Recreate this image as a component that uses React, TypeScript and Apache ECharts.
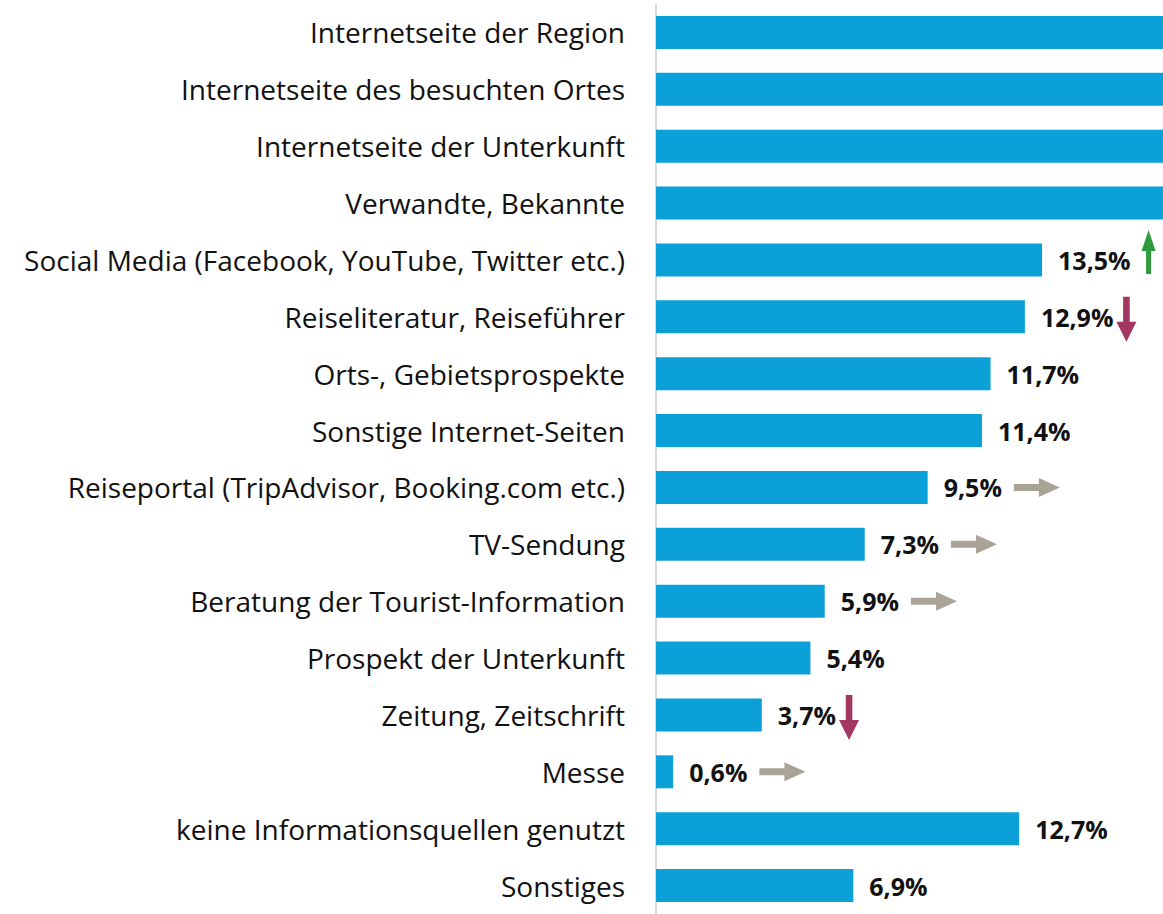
import React, { useEffect, useRef } from "react";
import * as echarts from "echarts";

const categories = [
  "Internetseite der Region",
  "Internetseite des besuchten Ortes",
  "Internetseite der Unterkunft",
  "Verwandte, Bekannte",
  "Social Media (Facebook, YouTube, Twitter etc.)",
  "Reiseliteratur, Reiseführer",
  "Orts-, Gebietsprospekte",
  "Sonstige Internet-Seiten",
  "Reiseportal (TripAdvisor, Booking.com etc.)",
  "TV-Sendung",
  "Beratung der Tourist-Information",
  "Prospekt der Unterkunft",
  "Zeitung, Zeitschrift",
  "Messe",
  "keine Informationsquellen genutzt",
  "Sonstiges",
];

// top four bars run beyond the visible area in the reference (values not visible)
const values = [38.0, 33.0, 27.0, 21.0, 13.5, 12.9, 11.7, 11.4, 9.5, 7.3, 5.9, 5.4, 3.7, 0.6, 12.7, 6.9];
const showValue = [false, false, false, false, true, true, true, true, true, true, true, true, true, true, true, true];
const trends = ["", "", "", "", "up", "down", "", "", "right", "right", "right", "", "down", "right", "", ""];

const X_MAX = 17.73;
const BAR_COLOR = "#0ca0d8";
const LABEL_FONT = "'Open Sans'";
const VALUE_FONT_SIZE = 25;

const fmt = (v: number) => v.toFixed(1).replace(".", ",") + "%";

let measureCtx: CanvasRenderingContext2D | null = null;
function textWidth(t: string): number {
  if (!measureCtx) {
    const c = document.createElement("canvas");
    measureCtx = c.getContext("2d");
  }
  if (!measureCtx) return t.length * 14;
  measureCtx.font = `bold ${VALUE_FONT_SIZE}px ${LABEL_FONT}`;
  return measureCtx.measureText(t).width;
}

export default function App() {
  const ref = useRef<HTMLDivElement>(null);
  useEffect(() => {
    if (!ref.current) return;
    const chart = echarts.init(ref.current, null, { renderer: "svg" });
    const barData = values.map((v, i) => ({
      value: v,
      label: { show: showValue[i] },
    }));
    const arrowData = values
      .map((v, i) => ({ v, i }))
      .filter((d) => trends[d.i] !== "")
      .map((d) => ({ value: [d.v, d.i], trend: trends[d.i] }));

    chart.setOption({
      animation: false,
      backgroundColor: "#ffffff",
      grid: { left: 656, right: 0, top: 4, bottom: -4, containLabel: false },
      xAxis: {
        type: "value",
        min: 0,
        max: X_MAX,
        show: false,
      },
      yAxis: {
        type: "category",
        data: categories,
        inverse: true,
        axisLine: { show: true, lineStyle: { color: "#d9d9d9", width: 2 } },
        axisTick: { show: false },
        axisLabel: {
          margin: 31,
          fontFamily: LABEL_FONT,
          fontSize: 28,
          color: "#111111",
        },
        splitLine: { show: false },
      },
      series: [
        {
          type: "bar",
          data: barData,
          barWidth: 33,
          itemStyle: { color: BAR_COLOR },
          label: {
            position: "right",
            distance: 16,
            fontFamily: LABEL_FONT,
            fontWeight: "bold",
            fontSize: VALUE_FONT_SIZE,
            color: "#111111",
            formatter: (p: any) => fmt(p.value),
          },
        },
        {
          type: "custom",
          data: arrowData,
          clip: false,
          encode: { x: 0, y: 1 },
          renderItem: (params: any, api: any) => {
            const v = api.value(0);
            const c = api.value(1);
            const p = api.coord([v, c]);
            const trend = arrowData[params.dataIndex].trend;
            const lw = textWidth(fmt(v));
            const labelEnd = p[0] + 16 + lw;
            const y = p[1];
            if (trend === "right") {
              const x0 = labelEnd + 12;
              const L = 46, hl = 21, sh = 3.5, hh = 9.5;
              return {
                type: "polygon",
                shape: {
                  points: [
                    [x0, y - sh], [x0 + L - hl, y - sh], [x0 + L - hl, y - hh],
                    [x0 + L, y], [x0 + L - hl, y + hh], [x0 + L - hl, y + sh], [x0, y + sh],
                  ],
                },
                style: { fill: "#aaa496" },
              };
            }
            if (trend === "up") {
              const cx = labelEnd + 18;
              const top = y - 30, bot = y + 14, hl = 21, sw = 2.5, hw = 7;
              return {
                type: "polygon",
                shape: {
                  points: [
                    [cx, top], [cx + hw, top + hl], [cx + sw, top + hl], [cx + sw, bot],
                    [cx - sw, bot], [cx - sw, top + hl], [cx - hw, top + hl],
                  ],
                },
                style: { fill: "#2e9b3e" },
              };
            }
            // down
            const cx = labelEnd + 13;
            const top = y - 20, bot = y + 25, hl = 20, sw = 3.3, hw = 10;
            return {
              type: "polygon",
              shape: {
                points: [
                  [cx - sw, top], [cx + sw, top], [cx + sw, bot - hl], [cx + hw, bot - hl],
                  [cx, bot], [cx - hw, bot - hl], [cx - sw, bot - hl],
                ],
              },
              style: { fill: "#a3375f" },
            };
          },
        },
      ],
    });
    return () => chart.dispose();
  }, []);
  return (
    <div
      ref={ref}
      style={{ position: "fixed", left: 0, top: 0, width: 1163, height: 914, background: "#fff" }}
    />
  );
}
